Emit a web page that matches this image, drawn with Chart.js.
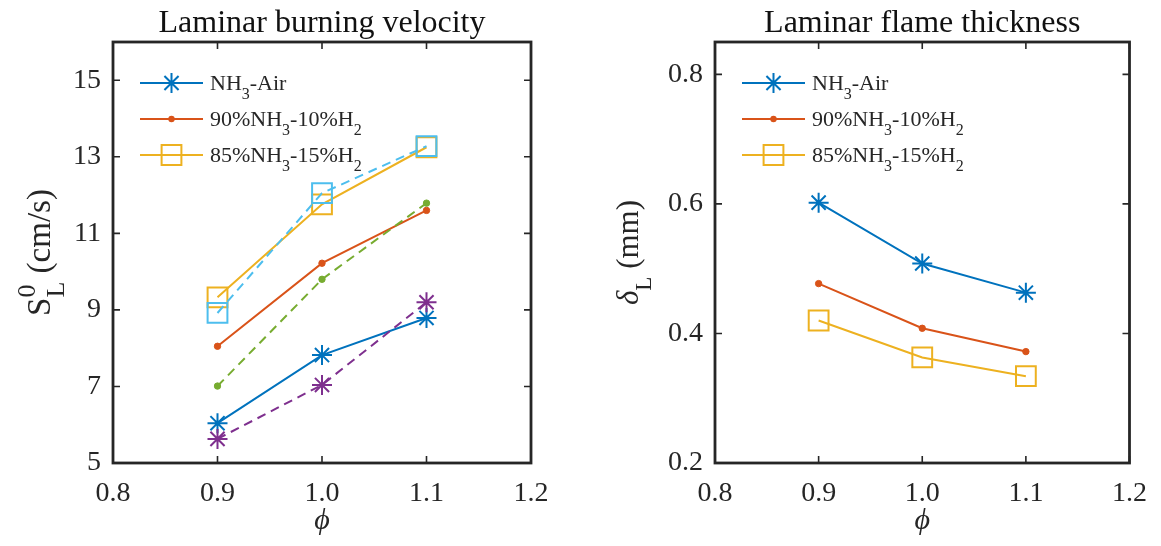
<!DOCTYPE html>
<html>
<head>
<meta charset="utf-8">
<script src="https://cdn.jsdelivr.net/npm/chart.js@4/dist/chart.umd.min.js"></script>
<style>
  html, body { margin: 0; padding: 0; background: #fff; }
  #wrap { position: relative; width: 1161px; height: 546px; overflow: hidden; }
  .panel { position: absolute; top: 0; height: 546px; }
</style>
</head>
<body>
<div id="wrap">
  <div class="panel" style="left:0;width:580px"><canvas id="cBurn" width="580" height="546"></canvas></div>
  <div class="panel" style="left:580px;width:581px"><canvas id="cThick" width="581" height="546"></canvas></div>
</div>
<script>
// ---- data -------------------------------------------------------------
const phi = [0.9, 1.0, 1.1];
const xTicks = [0.8, 0.9, 1.0, 1.1, 1.2];

// laminar burning velocity S_L^0 (cm/s)
const sNH3Air      = [6.04, 7.82, 8.79];
const sNH3AirAlt   = [5.63, 7.04, 9.20];
const s90NH3       = [8.05, 10.22, 11.60];
const s90NH3Alt    = [7.01, 9.80, 11.79];
const s85NH3       = [9.33, 11.76, 13.25];
const s85NH3Alt    = [8.92, 12.05, 13.28];
const sTicks = [5, 7, 9, 11, 13, 15];

// laminar flame thickness delta_L (mm)
const dNH3Air = [0.602, 0.508, 0.463];
const d90NH3  = [0.477, 0.408, 0.372];
const d85NH3  = [0.420, 0.363, 0.334];
const dTicks = [0.2, 0.4, 0.6, 0.8];

const seriesNames = ['NH_3-Air', '90%NH_3-10%H_2', '85%NH_3-15%H_2'];
const titles = ['Laminar burning velocity', 'Laminar flame thickness'];
const yLabels = ['S_L^0 (cm/s)', 'δ_L (mm)'];
const xLabel = 'ϕ';

// ---- style ------------------------------------------------------------
const FONT = '"Liberation Serif", "Times New Roman", "DejaVu Serif", serif';
const INK = '#262626';
const C = {
  blue: '#0072BD', orange: '#D95319', yellow: '#EDB120',
  purple: '#7E2F8E', green: '#77AC30', cyan: '#4DBEEE'
};
const MARK = {
  star:   { pointStyle: 'star',   pointRadius: 10, pointBorderWidth: 2 },
  dot:    { pointStyle: 'circle', pointRadius: 3.2, pointBorderWidth: 1 },
  square: { pointStyle: 'rect',   pointRadius: 14, pointBorderWidth: 2 }
};

function pts(ys) { return phi.map((x, i) => ({ x, y: ys[i] })); }

function series(label, ys, color, mark, dashed, inLegend) {
  return Object.assign({
    label, data: pts(ys),
    borderColor: color, backgroundColor: mark === 'dot' ? color : 'rgba(0,0,0,0)',
    pointBorderColor: color,
    pointBackgroundColor: mark === 'dot' ? color : 'rgba(0,0,0,0)',
    borderWidth: 2, borderDash: dashed ? [9, 6] : [],
    tension: 0, fill: false, inLegend, markKind: mark
  }, MARK[mark]);
}

// ---- rich text (TeX-like _ and ^) -------------------------------------
function richTokens(s) {
  const out = []; let buf = ''; let i = 0;
  while (i < s.length) {
    const c = s[i];
    if (c === '_' || c === '^') {
      if (buf) { out.push({ t: buf, k: 'n' }); buf = ''; }
      let t;
      if (s[i + 1] === '{') { const j = s.indexOf('}', i); t = s.slice(i + 2, j); i = j + 1; }
      else { t = s[i + 1]; i += 2; }
      out.push({ t, k: c === '_' ? 'sub' : 'sup' });
    } else { buf += c; i++; }
  }
  if (buf) out.push({ t: buf, k: 'n' });
  return out;
}
function fontFor(t, size) {
  const greek = /[\u0370-\u03FF]/.test(t);
  return (greek ? 'italic ' : '') + size + 'px ' + FONT;
}
function layoutRich(ctx, s, size, scriptScale) {
  const toks = richTokens(s);
  const placed = []; let x = 0; let last = null;
  for (const tk of toks) {
    const sz = tk.k === 'n' ? size : Math.round(size * scriptScale);
    const font = fontFor(tk.t, sz);
    ctx.font = font;
    const w = ctx.measureText(tk.t).width;
    const dy = tk.k === 'sub' ? size * 0.42 : (tk.k === 'sup' ? -size * 0.45 : 0);
    if (tk.k !== 'n' && last && last.k !== 'n' && last.k !== tk.k) {
      placed.push({ t: tk.t, x: last.x, dy, font });
      x = last.x + Math.max(last.w, w);
      last = null;
      continue;
    }
    const p = { t: tk.t, k: tk.k, x, dy, font, w };
    placed.push(p);
    last = tk.k === 'n' ? null : p;
    x += w;
  }
  return { placed, width: x };
}
function drawRich(ctx, s, x, y, size, align, scriptScale) {
  const L = layoutRich(ctx, s, size, scriptScale || 0.74);
  const x0 = align === 'center' ? x - L.width / 2 : x;
  ctx.textAlign = 'left';
  ctx.textBaseline = 'alphabetic';
  for (const p of L.placed) {
    ctx.font = p.font;
    ctx.fillText(p.t, x0 + p.x, y + p.dy);
  }
}

// ---- marker used by the legend ----------------------------------------
function drawMarker(ctx, kind, color, x, y) {
  const m = MARK[kind];
  ctx.save();
  ctx.strokeStyle = color; ctx.fillStyle = color; ctx.lineWidth = m.pointBorderWidth;
  ctx.setLineDash([]);
  ctx.beginPath();
  if (kind === 'star') {
    const r = m.pointRadius, d = r * Math.SQRT1_2;
    ctx.moveTo(x - r, y); ctx.lineTo(x + r, y);
    ctx.moveTo(x, y - r); ctx.lineTo(x, y + r);
    ctx.moveTo(x - d, y - d); ctx.lineTo(x + d, y + d);
    ctx.moveTo(x - d, y + d); ctx.lineTo(x + d, y - d);
    ctx.stroke();
  } else if (kind === 'dot') {
    ctx.arc(x, y, m.pointRadius, 0, Math.PI * 2); ctx.fill();
  } else {
    const h = m.pointRadius * Math.SQRT1_2;
    ctx.rect(x - h, y - h, 2 * h, 2 * h); ctx.stroke();
  }
  ctx.restore();
}

// ---- axes box, inward ticks, title, y label, legend --------------------
const axesDecor = {
  id: 'axesDecor',
  afterDraw(chart, args, opts) {
    const { ctx, chartArea: a, scales } = chart;
    ctx.save();
    // inward tick marks on all four sides
    ctx.strokeStyle = INK; ctx.lineWidth = 1.6;
    const tl = 7;
    ctx.beginPath();
    for (const t of scales.x.ticks) {
      const px = scales.x.getPixelForValue(t.value);
      ctx.moveTo(px, a.bottom); ctx.lineTo(px, a.bottom - tl);
      ctx.moveTo(px, a.top); ctx.lineTo(px, a.top + tl);
    }
    for (const t of scales.y.ticks) {
      const py = scales.y.getPixelForValue(t.value);
      ctx.moveTo(a.left, py); ctx.lineTo(a.left + tl, py);
      ctx.moveTo(a.right, py); ctx.lineTo(a.right - tl, py);
    }
    ctx.stroke();
    // box
    ctx.lineWidth = 2.8;
    ctx.strokeRect(a.left, a.top, a.right - a.left, a.bottom - a.top);

    // title
    ctx.fillStyle = '#111';
    ctx.font = '32px ' + FONT;
    ctx.textAlign = 'center'; ctx.textBaseline = 'alphabetic';
    ctx.fillText(opts.title, (a.left + a.right) / 2, 32);

    // rotated y label
    ctx.fillStyle = INK;
    ctx.save();
    ctx.translate(opts.yLabelX, (a.top + a.bottom) / 2);
    ctx.rotate(-Math.PI / 2);
    drawRich(ctx, opts.yLabel, 0, 10, opts.yLabelSize, 'center', opts.scriptScale);
    ctx.restore();

    // legend (no box)
    const rows = chart.data.datasets.filter(d => d.inLegend);
    rows.forEach((d, i) => {
      const y = a.top + 41 + i * 36;
      const x0 = a.left + 27, x1 = a.left + 90;
      ctx.save();
      ctx.strokeStyle = d.borderColor; ctx.lineWidth = 2; ctx.setLineDash([]);
      ctx.beginPath(); ctx.moveTo(x0, y); ctx.lineTo(x1, y); ctx.stroke();
      ctx.restore();
      drawMarker(ctx, d.markKind, d.borderColor, (x0 + x1) / 2, y);
      ctx.fillStyle = INK;
      drawRich(ctx, d.label, a.left + 97, y + 7, 22, 'left');
    });
    ctx.restore();
  }
};

function axisConfig(yMin, yMax, yTicks, yFmt, yWidth) {
  const tickFont = { family: FONT, size: 28 };
  return {
    x: {
      type: 'linear', min: 0.8, max: 1.2,
      afterBuildTicks: s => { s.ticks = xTicks.map(v => ({ value: v })); },
      afterFit: s => { s.height = 83; },
      grid: { display: false, drawTicks: false },
      border: { display: false },
      ticks: { font: tickFont, color: INK, padding: 14, maxRotation: 0, autoSkip: false,
               callback: v => Number(v).toFixed(1) },
      title: { display: true, text: xLabel, color: INK,
               font: { family: FONT, size: 30, style: 'italic' },
               padding: { top: 0, bottom: 7 } }
    },
    y: {
      type: 'linear', min: yMin, max: yMax,
      afterBuildTicks: s => { s.ticks = yTicks.map(v => ({ value: v })); },
      afterFit: s => { s.width = yWidth; },
      grid: { display: false, drawTicks: false },
      border: { display: false },
      ticks: { font: tickFont, color: INK, padding: 12, autoSkip: false, callback: yFmt }
    }
  };
}

function makeChart(id, datasets, scales, padRight, decor) {
  return new Chart(document.getElementById(id), {
    type: 'line',
    data: { datasets },
    options: {
      responsive: false, animation: false, devicePixelRatio: 1,
      layout: { padding: { top: 42, right: padRight, left: 0, bottom: 0 } },
      scales,
      plugins: { legend: { display: false }, tooltip: { enabled: false }, axesDecor: decor }
    },
    plugins: [axesDecor]
  });
}

// left panel: burning velocity
makeChart('cBurn', [
  series('NH_3-Air (alt)', sNH3AirAlt, C.purple, 'star', true, false),
  series('90%NH_3-10%H_2 (alt)', s90NH3Alt, C.green, 'dot', true, false),
  series('85%NH_3-15%H_2 (alt)', s85NH3Alt, C.cyan, 'square', true, false),
  series(seriesNames[0], sNH3Air, C.blue, 'star', false, true),
  series(seriesNames[1], s90NH3, C.orange, 'dot', false, true),
  series(seriesNames[2], s85NH3, C.yellow, 'square', false, true)
], axisConfig(5, 16, sTicks, v => String(v), 113), 49,
  { title: titles[0], yLabel: yLabels[0], yLabelX: 40, yLabelSize: 33, scriptScale: 0.8 });

// right panel: flame thickness
makeChart('cThick', [
  series(seriesNames[0], dNH3Air, C.blue, 'star', false, true),
  series(seriesNames[1], d90NH3, C.orange, 'dot', false, true),
  series(seriesNames[2], d85NH3, C.yellow, 'square', false, true)
], axisConfig(0.2, 0.85, dTicks, v => Number(v).toFixed(1), 135), 28,
  { title: titles[1], yLabel: yLabels[1], yLabelX: 48, yLabelSize: 31, scriptScale: 0.74 });
</script>
</body>
</html>
